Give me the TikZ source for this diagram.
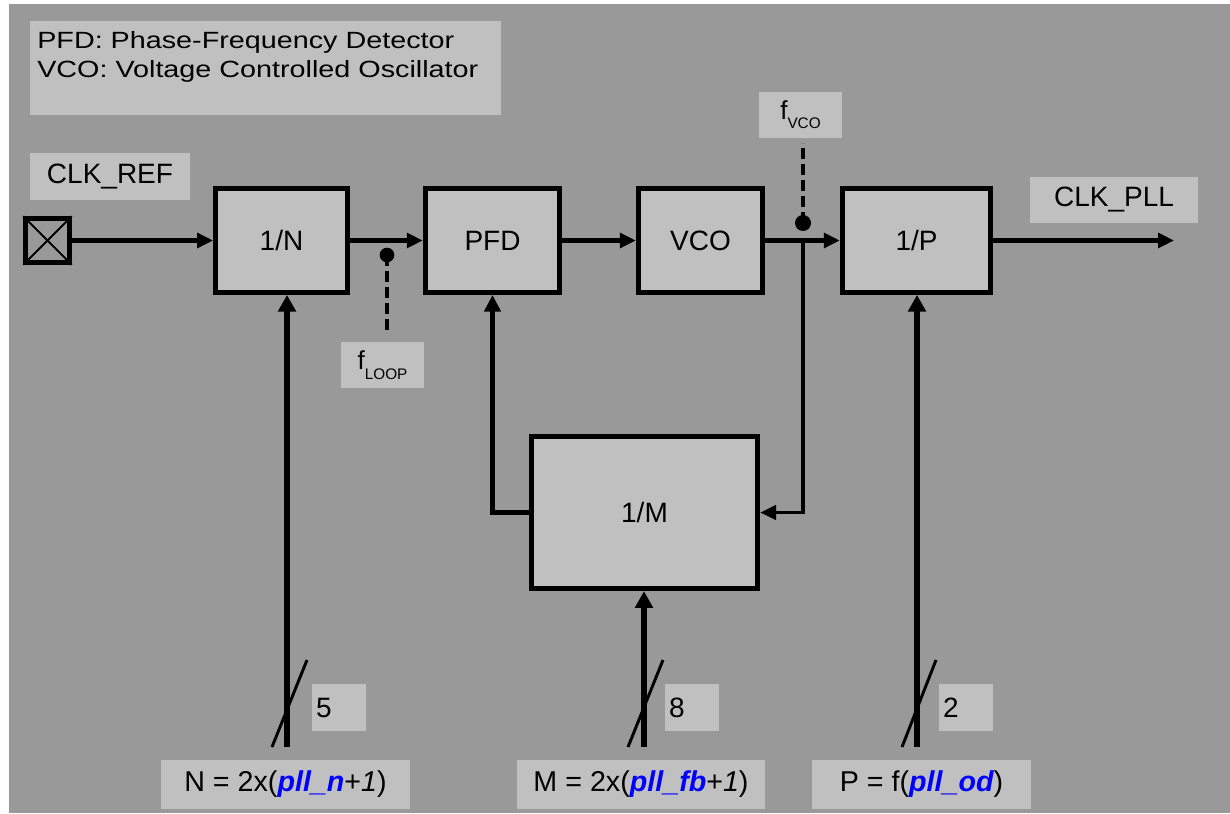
\documentclass[tikz,border=0pt]{standalone}
\usepackage{fontspec}
\setmainfont{Liberation Sans}
\usepackage{graphicx}
\usetikzlibrary{arrows.meta}
\definecolor{bg}{RGB}{153,153,153}
\definecolor{lt}{RGB}{192,192,192}
\begin{document}
\begin{tikzpicture}[x=0.75pt,y=-0.75pt,
  block/.style={draw=black, line width=3.6pt, fill=lt, font=\fontsize{21}{25}\selectfont, inner sep=0pt, minimum height=78pt},
  lbl/.style={fill=lt, inner sep=0pt, font=\fontsize{21}{25}\selectfont},
  numlbl/.style={lbl, minimum width=40.5pt, minimum height=35.25pt, text width=34.5pt, align=left},
  fmlbl/.style={lbl, minimum height=36.75pt, font=\fontsize{21.5}{25}\selectfont},
  flbl/.style={lbl, minimum width=62.25pt, minimum height=34.5pt, font=\fontsize{19.5}{22}\selectfont},
  sig/.style={line width=3.2pt, -{Triangle[length=12pt,width=11pt]}},
  bus/.style={line width=4.8pt, -{Triangle[length=12.5pt,width=13pt]}},
  slashln/.style={line width=2.2pt},
  probe/.style={line width=3pt, dash pattern=on 8pt off 4pt},
  dotnode/.style={circle, fill=black, inner sep=0pt}
]
\useasboundingbox (0,0) rectangle (1230,813);
\fill[white] (0,0) rectangle (1230,813);
\fill[bg] (9,4) rectangle (1230,813);

% legend
\node[lbl, minimum width=353.25pt, minimum height=70.5pt] (legend) at (265.5,68) {};
\node[anchor=base west, inner sep=0pt, font=\fontsize{17.6}{20}\selectfont] (leg1) at (37,49) {\scalebox{1.225}[1]{PFD: Phase-Frequency Detector}};
\node[anchor=base west, inner sep=0pt, font=\fontsize{17.6}{20}\selectfont] (leg2) at (37,78) {\scalebox{1.225}[1]{VCO: Voltage Controlled Oscillator}};

% blocks
\node[block, minimum width=99pt] (N) at (281.5,240.5) {1/N};
\node[block, minimum width=101pt] (PFD) at (492.5,240.5) {PFD};
\node[block, minimum width=93.4pt] (VCO) at (700.5,240.5) {VCO};
\node[block, minimum width=111.4pt] (P) at (916.5,240.5) {1/P};
\node[block, minimum width=170pt, minimum height=114.4pt] (M) at (644.5,512.5) {1/M};

% input pad
\node[draw=black, line width=3.4pt, minimum size=33pt, inner sep=0pt] (pad) at (47.5,240.5) {};
\draw[line width=1.5pt] (pad.north west) -- (pad.south east);
\draw[line width=1.5pt] (pad.north east) -- (pad.south west);

% labels
\node[lbl, minimum width=120pt, minimum height=35.25pt] (clkref) at (110,176.5) {CLK\_REF};
\node[lbl, minimum width=126pt, minimum height=34.5pt] (clkpll) at (1114,200) {CLK\_PLL};
\node[flbl] (fvco) at (800.5,115) {f\raisebox{-6.75pt}{\fontsize{11.5}{11.5}\selectfont VCO}};
\node[flbl] (floop) at (382.5,365) {f\raisebox{-7.5pt}{\fontsize{11.5}{11.5}\selectfont LOOP}};

% main signal path
\coordinate (pllout) at (1174,240.5);
\draw[sig] (pad.east) -- (pad.east -| N.west);
\draw[sig] (N) -- (PFD);
\draw[sig] (PFD) -- (VCO);
\draw[sig] (VCO) -- (P);
\draw[sig] (P) -- (pllout);

% probes
\node[dotnode, minimum size=11pt] (dloop) at (387,255) {};
\node[dotnode, minimum size=12pt] (dvco) at (803,223) {};
\coordinate (loopend) at (387,333);
\coordinate (vcoend) at (803,143);
\draw[probe] (dloop.center) -- (loopend);
\draw[probe] (dvco.center) -- (vcoend);

% feedback
\coordinate (tap) at (dvco |- VCO.east);
\draw[line width=2.4pt, -{Triangle[length=12pt,width=11pt]}] (tap) |- (M.east);
\draw[line width=3.6pt, -{Triangle[length=12.5pt,width=12pt]}] (M.west) -| (PFD.south);

% buses
\coordinate (nin) at (287,747);
\coordinate (min) at (644,747);
\coordinate (pin) at (917,747);
\draw[bus] (nin) -- (nin |- N.south);
\draw[bus] (min) -- (min |- M.south);
\draw[bus] (pin) -- (pin |- P.south);
\coordinate (ns1) at (272,747); \coordinate (ns2) at (307,660);
\coordinate (ms1) at (628,747); \coordinate (ms2) at (663,660);
\coordinate (ps1) at (902,747); \coordinate (ps2) at (936,660);
\draw[slashln] (ns1) -- (ns2);
\draw[slashln] (ms1) -- (ms2);
\draw[slashln] (ps1) -- (ps2);

\node[numlbl] (nw) at (339,707.5) {5};
\node[numlbl] (mw) at (692,707.5) {8};
\node[numlbl] (pw) at (966,707.5) {2};

\node[fmlbl, minimum width=186.75pt] (nf) at (285.5,784.5) {N = 2x(\textcolor{blue}{\bfseries\itshape pll\_n}+\textit{1})};
\node[fmlbl, minimum width=186pt] (mf) at (641,784.5) {M = 2x(\textcolor{blue}{\bfseries\itshape pll\_fb}+\textit{1})};
\node[fmlbl, minimum width=164.25pt] (pf) at (921.5,784.5) {P = f(\textcolor{blue}{\bfseries\itshape pll\_od})};
\end{tikzpicture}
\end{document}
